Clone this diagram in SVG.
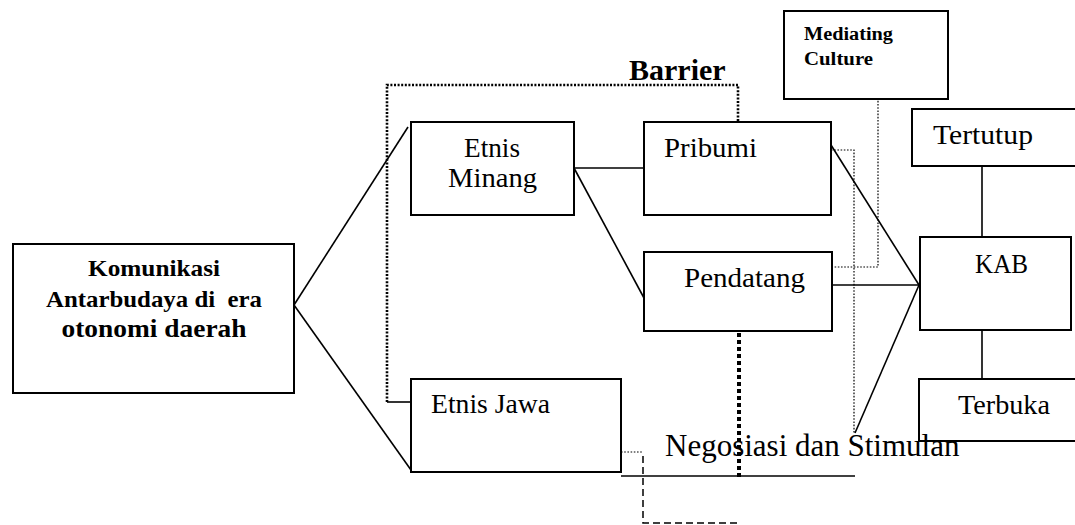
<svg xmlns="http://www.w3.org/2000/svg" width="1075" height="525" viewBox="0 0 1075 525">
<style>
.box{fill:#fff;stroke:#000;stroke-width:2}
.ln{fill:none;stroke:#000;stroke-width:1.6}
.dotB{fill:none;stroke:#000;stroke-width:2.6;stroke-dasharray:2 1.6}
.dotT{fill:none;stroke:#000;stroke-width:4;stroke-dasharray:4 3}
.dotF{fill:none;stroke:#000;stroke-width:1.2;stroke-dasharray:1.6 1.6}
.dash{fill:none;stroke:#000;stroke-width:1.5;stroke-dasharray:7 4}
.t{font-family:"Liberation Serif","Times New Roman",serif;font-size:27px;fill:#000}
.b{font-family:"Liberation Serif","Times New Roman",serif;font-weight:bold;fill:#000}
</style>
<rect width="1075" height="525" fill="#fff"/>
<g id="connectors">
<polyline class="dotB" points="387,402 387,85 738,85 738,125"/>
<line class="ln" x1="387" y1="402" x2="411" y2="402"/>
<line class="ln" x1="294" y1="305" x2="408" y2="127"/>
<line class="ln" x1="294" y1="305" x2="411" y2="470"/>
<line class="ln" x1="574" y1="168" x2="644" y2="168"/>
<line class="ln" x1="574" y1="168" x2="644" y2="298"/>
<line class="ln" x1="831" y1="145" x2="919" y2="285"/>
<line class="ln" x1="832" y1="285" x2="919" y2="285"/>
<line class="ln" x1="919" y1="285" x2="855" y2="433"/>
<line class="ln" x1="982" y1="162" x2="982" y2="237"/>
<line class="ln" x1="982" y1="329" x2="982" y2="386"/>
<polyline class="dotF" points="874,60 878,60 878,267 832,267"/>
<polyline class="dotF" points="831,150 854,150 854,433"/>
<line class="dotT" x1="739" y1="333" x2="739" y2="478"/>
<line class="ln" x1="621" y1="476" x2="855" y2="476"/>
<line class="dotF" x1="621" y1="452" x2="643" y2="452"/>
<polyline class="dash" points="643,456 643,523 738,523"/>
</g>
<g id="main">
<rect class="box" x="13" y="244" width="281" height="149"/>
<text class="b" font-size="24" x="154" y="276" text-anchor="middle" textLength="132" lengthAdjust="spacingAndGlyphs">Komunikasi</text>
<text class="b" font-size="24" x="154" y="307" text-anchor="middle" textLength="216" lengthAdjust="spacingAndGlyphs" style="white-space:pre">Antarbudaya di  era</text>
<text class="b" font-size="26" x="154" y="337" text-anchor="middle" textLength="185" lengthAdjust="spacingAndGlyphs">otonomi daerah</text>
</g>
<g id="etnis-minang">
<rect class="box" x="411" y="122" width="163" height="93"/>
<text class="t" x="464" y="157" textLength="56" lengthAdjust="spacingAndGlyphs">Etnis</text>
<text class="t" x="448" y="187" textLength="89" lengthAdjust="spacingAndGlyphs">Minang</text>
</g>
<g id="pribumi">
<rect class="box" x="644" y="122" width="187" height="93"/>
<text class="t" x="664" y="157" textLength="93" lengthAdjust="spacingAndGlyphs">Pribumi</text>
</g>
<g id="pendatang">
<rect class="box" x="644" y="252" width="188" height="79"/>
<text class="t" x="684" y="287" textLength="121" lengthAdjust="spacingAndGlyphs">Pendatang</text>
</g>
<g id="etnis-jawa">
<rect class="box" x="411" y="379" width="210" height="93"/>
<text class="t" x="431" y="413" textLength="119" lengthAdjust="spacingAndGlyphs">Etnis Jawa</text>
</g>
<g id="mediating">
<rect class="box" x="784" y="11" width="164" height="88"/>
<text class="b" font-size="18" x="804" y="40" textLength="89" lengthAdjust="spacingAndGlyphs">Mediating</text>
<text class="b" font-size="18" x="804" y="65" textLength="69" lengthAdjust="spacingAndGlyphs">Culture</text>
</g>
<g id="tertutup">
<rect class="box" x="912" y="109" width="175" height="57"/>
<text class="t" x="933" y="144" textLength="100" lengthAdjust="spacingAndGlyphs">Tertutup</text>
</g>
<g id="kab">
<rect class="box" x="920" y="237" width="151" height="93"/>
<text class="t" x="975" y="273" textLength="53" lengthAdjust="spacingAndGlyphs">KAB</text>
</g>
<g id="terbuka">
<rect class="box" x="919" y="379" width="170" height="62"/>
<text class="t" x="958" y="414" textLength="92" lengthAdjust="spacingAndGlyphs">Terbuka</text>
</g>
<g id="labels">
<text class="b" font-size="30" x="629" y="80">Barrier</text>
<text class="t" x="665" y="456" style="font-size:31px">Negosiasi dan Stimulan</text>
</g>
</svg>
